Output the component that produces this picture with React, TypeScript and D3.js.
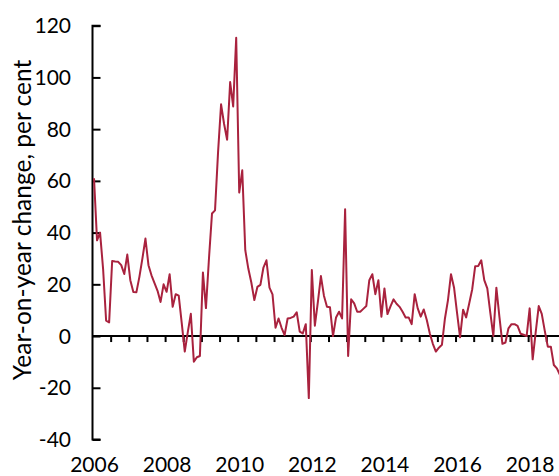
import { useRef, useEffect } from "react";
import * as d3 from "d3";

const WIDTH = 559;
const HEIGHT = 476;
const LINE_COLOR = "#a9223e";

// monthly year-on-year change, per cent (Jan of each year onward)
const yoy2006 = [61, 37, 40, 26, 6, 5.3, 29, 28.8, 28.7, 27.4, 24, 31.5];
const yoy2007 = [21.6, 17, 16.9, 22.9, 30, 37.7, 27.4, 23.5, 20.5, 17.5, 13.2, 20];
const yoy2008 = [17.1, 23.9, 11.3, 16.2, 15.6, 5, -6, 1.5, 8.6, -9.9, -8.2, -7.7];
const yoy2009 = [24.6, 10.8, 30, 47.4, 48.6, 71, 89.6, 82, 75.9, 98.2, 88.8, 115.3];
const yoy2010 = [55.5, 64.1, 33.2, 26.1, 20.7, 13.9, 19, 19.8, 26.5, 29.3, 18.7, 16.1];
const yoy2011 = [3.2, 6.8, 3.2, 0.4, 6.8, 7, 7.5, 9.2, 1.7, 1, 4.6, -24];
const yoy2012 = [25.5, 4, 13.2, 23.2, 15.6, 11.3, 11.1, 0, 7.2, 9.4, 6.8, 49];
const yoy2013 = [-7.7, 14.2, 12.6, 9.4, 9.4, 10.5, 11.6, 21.6, 23.9, 16.2, 21.6, 7.5];
const yoy2014 = [18.4, 8.5, 11.5, 14.2, 12.5, 11.3, 9.4, 7.2, 7.2, 4.6, 16.2, 10.7];
const yoy2015 = [7.5, 10.3, 6.2, 1, -3, -6, -4.5, -3.4, 6.8, 13.9, 23.9, 18.8];
const yoy2016 = [9, -0.5, 10.2, 7.2, 12.5, 18, 27, 27.1, 29.3, 21.6, 18.4, 9];
const yoy2017 = [0, 18.7, 7.5, -3, -2.5, 3, 4.6, 4.6, 3.9, 0.9, 0.5, 0];
const yoy2018 = [10.7, -9, 1.5, 11.6, 8.6, 2, -4.1, -4.1, -11.2, -12.5, -15];

const yearly = [yoy2006, yoy2007, yoy2008, yoy2009, yoy2010, yoy2011, yoy2012,
  yoy2013, yoy2014, yoy2015, yoy2016, yoy2017, yoy2018];
const firstYear = 2006;

const yTicks = [-40, -20, 0, 20, 40, 60, 80, 100, 120];
const xLabels = [2006, 2008, 2010, 2012, 2014, 2016, 2018];
const yTitle = "Year-on-year change, per cent";

const FONT = "Lato, 'Open Sans', sans-serif";

export default function App() {
  const svgRef = useRef<SVGSVGElement>(null);

  useEffect(() => {
    const svg = d3.select(svgRef.current);
    svg.selectAll("*").remove();

    const data: { t: number; v: number }[] = [];
    yearly.forEach((arr, yi) => {
      arr.forEach((v, mi) => data.push({ t: firstYear + yi + (mi + 0.5) / 12, v }));
    });

    const x = d3.scaleLinear().domain([2006, 2018.85]).range([92.5, 559]);
    const y = d3.scaleLinear().domain([-40, 120]).range([439.5, 25.7]);

    // y axis
    const yAxis = d3.axisRight(y).tickValues(yTicks).tickSize(8).tickFormat(() => "");
    const ya = svg.append("g").attr("transform", `translate(${x(2006)},0)`).call(yAxis);
    ya.select(".domain").attr("stroke", "#000").attr("stroke-width", 2)
      .attr("d", `M8,${y(120)}H0V${y(-40)}H8`);
    ya.selectAll(".tick line").attr("stroke", "#000").attr("stroke-width", 2);

    svg.append("g")
      .selectAll("text")
      .data(yTicks)
      .join("text")
      .attr("x", 71)
      .attr("y", (d) => y(d))
      .attr("dy", "0.36em")
      .attr("text-anchor", "end")
      .style("font-family", FONT)
      .style("font-size", "21px")
      .text((d) => d);

    // x axis along zero
    const halfYears = d3.range(2006.5, 2018.85, 0.5);
    const xAxis = d3.axisBottom(x).tickValues(halfYears).tickSize(6).tickFormat(() => "");
    const xa = svg.append("g").attr("transform", `translate(0,${y(0)})`).call(xAxis);
    xa.select(".domain").attr("stroke", "#000").attr("stroke-width", 2)
      .attr("d", `M${x(2006)},0H559`);
    xa.selectAll(".tick line").attr("stroke", "#000").attr("stroke-width", 2);

    svg.append("g")
      .selectAll("text")
      .data(xLabels)
      .join("text")
      .attr("x", (d) => x(d) + 2)
      .attr("y", 472)
      .attr("text-anchor", "middle")
      .style("font-family", FONT)
      .style("font-size", "21px")
      .text((d) => d);

    // axis title
    svg.append("text")
      .attr("transform", `translate(31,220) rotate(-90)`)
      .attr("text-anchor", "middle")
      .style("font-family", FONT)
      .style("font-size", "24.5px")
      .text(yTitle);

    // series
    const line = d3.line<{ t: number; v: number }>()
      .x((d) => x(d.t))
      .y((d) => y(d.v));

    svg.append("path")
      .datum(data)
      .attr("fill", "none")
      .attr("stroke", LINE_COLOR)
      .attr("stroke-width", 2)
      .attr("stroke-linejoin", "round")
      .attr("d", line);
  }, []);

  return (
    <svg
      ref={svgRef}
      width={WIDTH}
      height={HEIGHT}
      style={{ position: "absolute", left: 0, top: 0, background: "#fff" }}
    />
  );
}
